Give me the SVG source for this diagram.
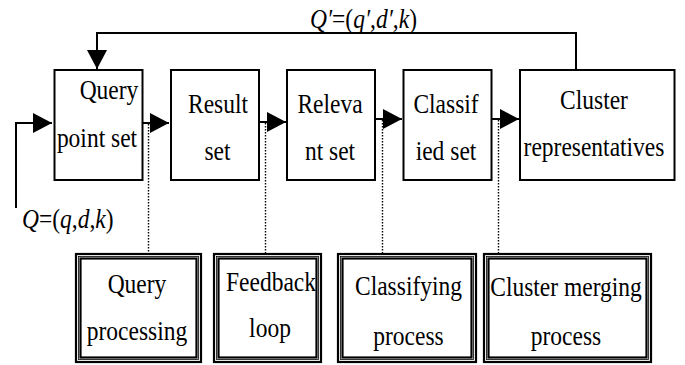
<svg xmlns="http://www.w3.org/2000/svg" width="685" height="365" viewBox="0 0 685 365">
<style>
.box{fill:#fff;stroke:#000;stroke-width:2}
.ob{fill:#fff;stroke:#000;stroke-width:2.2}
.ib{fill:none;stroke:#000;stroke-width:2.2}
.tn{fill:none;stroke:#000;stroke-width:0.8}
.t{font-family:"Liberation Serif","Times New Roman",serif;font-size:23.5px;fill:#000;text-anchor:middle}
.m{font-family:"Liberation Serif","Times New Roman",serif;font-size:23.5px;fill:#000}
.i{font-style:italic}
.ln{fill:none;stroke:#000;stroke-width:2}
.dot{fill:none;stroke:#000;stroke-width:1.4;stroke-dasharray:1.4,1.6}
</style>
<defs>
<marker id="ah" markerUnits="userSpaceOnUse" markerWidth="20" markerHeight="20" refX="19" refY="10" orient="auto">
<path d="M0,0 L19,10 L0,20 z" fill="#000"/>
</marker>
</defs>
<g id="connectors">
<path class="ln" d="M576,70 V33 H97 V69" marker-end="url(#ah)"/>
<path class="ln" d="M16,208 V123 H52" marker-end="url(#ah)"/>
<path class="ln" d="M143,123 H169" marker-end="url(#ah)"/>
<path class="ln" d="M259,122 H286" marker-end="url(#ah)"/>
<path class="ln" d="M375,119 H402" marker-end="url(#ah)"/>
<path class="ln" d="M492,119 H519" marker-end="url(#ah)"/>
<path class="dot" d="M148.5,124 V253"/>
<path class="dot" d="M265.5,123 V253"/>
<path class="dot" d="M382.5,120 V253"/>
<path class="dot" d="M498.5,120 V253"/>
</g>
<g id="label-qprime">
<text class="m" transform="translate(310,28) scale(1,1.15)"><tspan class="i">Q′</tspan>=(<tspan class="i">q′</tspan>,<tspan class="i">d′</tspan>,<tspan class="i">k</tspan>)</text>
</g>
<g id="label-q">
<text class="m" transform="translate(22,228) scale(1,1.15)"><tspan class="i">Q</tspan>=(<tspan class="i">q</tspan>,<tspan class="i">d</tspan>,<tspan class="i">k</tspan>)</text>
</g>
<g id="query-point-set">
<rect class="box" x="54.5" y="70" width="88" height="110"/>
<text class="t" transform="translate(109,99) scale(1,1.15)">Query</text>
<text class="t" transform="translate(97,147) scale(1,1.15)">point set</text>
</g>
<g id="result-set">
<rect class="box" x="171" y="70" width="88" height="110"/>
<text class="t" transform="translate(218,113) scale(1,1.15)">Result</text>
<text class="t" transform="translate(217.5,160) scale(1,1.15)">set</text>
</g>
<g id="relevant-set">
<rect class="box" x="287" y="70" width="88" height="110"/>
<text class="t" transform="translate(330,113) scale(1,1.15)">Releva</text>
<text class="t" transform="translate(330,160) scale(1,1.15)">nt set</text>
</g>
<g id="classified-set">
<rect class="box" x="403.5" y="70" width="88" height="110"/>
<text class="t" transform="translate(446,113) scale(1,1.15)">Classif</text>
<text class="t" transform="translate(446,160) scale(1,1.15)">ied set</text>
</g>
<g id="cluster-representatives">
<rect class="box" x="520" y="70" width="154.5" height="110"/>
<text class="t" transform="translate(594,109) scale(1,1.15)">Cluster</text>
<text class="t" transform="translate(594,156) scale(1,1.15)">representatives</text>
</g>
<g id="query-processing">
<rect class="ob" x="76" y="254" width="125" height="108"/>
<rect class="tn" x="78.5" y="256.5" width="120" height="103"/>
<rect class="ib" x="80.5" y="258.5" width="116" height="99"/>
<text class="t" transform="translate(137,293) scale(1,1.15)">Query</text>
<text class="t" transform="translate(137,340) scale(1,1.15)">processing</text>
</g>
<g id="feedback-loop">
<rect class="ob" x="214" y="254" width="107" height="108"/>
<rect class="tn" x="216.5" y="256.5" width="102" height="103"/>
<rect class="ib" x="218.5" y="258.5" width="98" height="99"/>
<text class="t" transform="translate(271,291) scale(1,1.15)">Feedback</text>
<text class="t" transform="translate(270,337) scale(1,1.15)">loop</text>
</g>
<g id="classifying-process">
<rect class="ob" x="338" y="254" width="138" height="108"/>
<rect class="tn" x="340.5" y="256.5" width="133" height="103"/>
<rect class="ib" x="342.5" y="258.5" width="129" height="99"/>
<text class="t" transform="translate(408.5,295) scale(1,1.15)">Classifying</text>
<text class="t" transform="translate(408.5,345) scale(1,1.15)">process</text>
</g>
<g id="cluster-merging-process">
<rect class="ob" x="484" y="254" width="167" height="108"/>
<rect class="tn" x="486.5" y="256.5" width="162" height="103"/>
<rect class="ib" x="488.5" y="258.5" width="158" height="99"/>
<text class="t" transform="translate(566,296) scale(1,1.15)">Cluster merging</text>
<text class="t" transform="translate(566,345) scale(1,1.15)">process</text>
</g>
</svg>
